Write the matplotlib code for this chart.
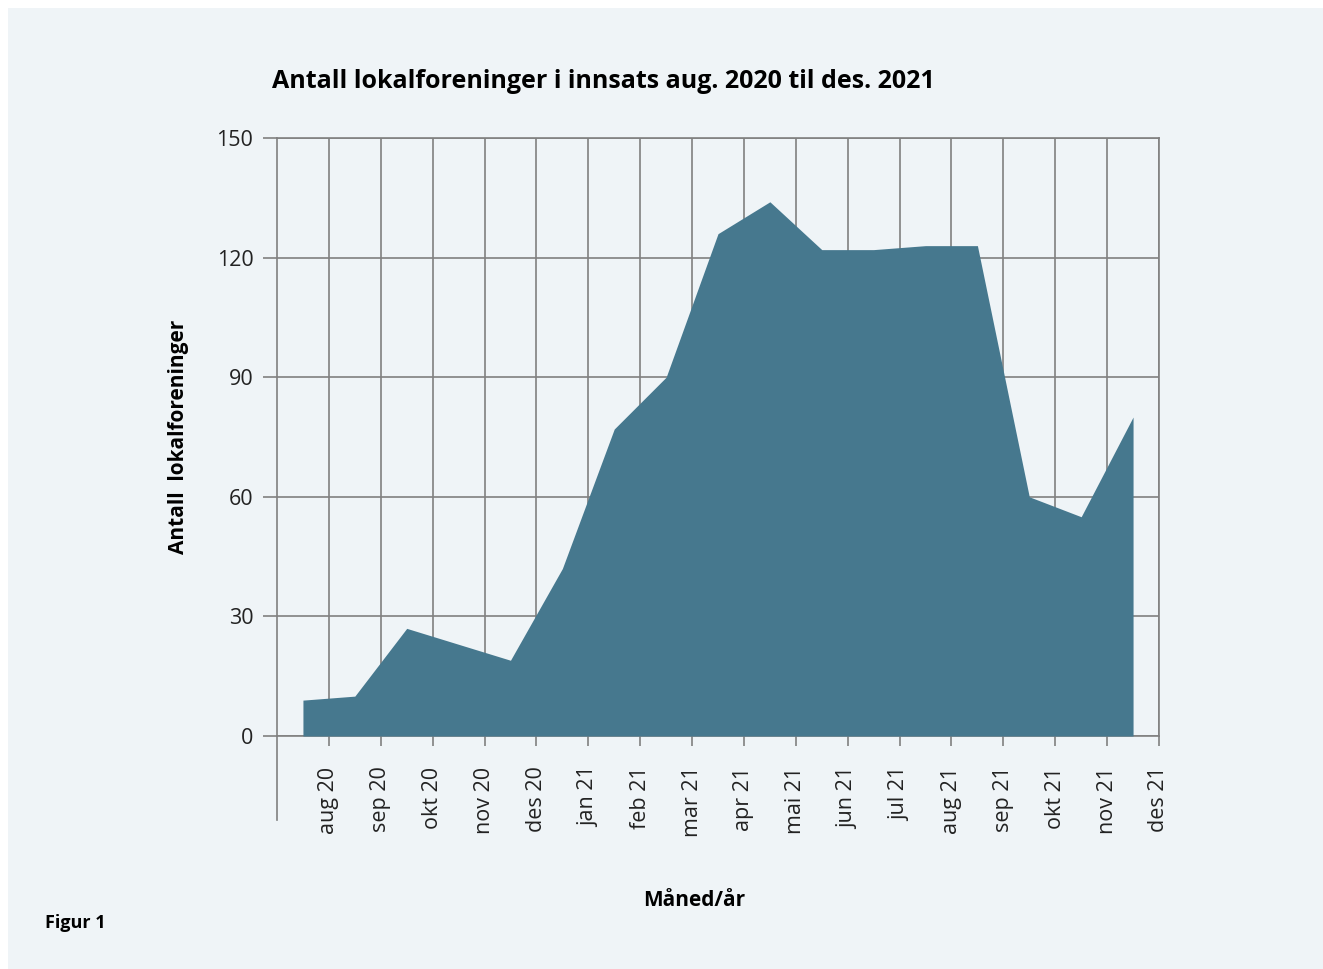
import numpy as np
import matplotlib
matplotlib.use("Agg")
import matplotlib.pyplot as plt
from matplotlib.patches import Rectangle

plt.rcParams['font.family'] = ['Open Sans', 'DejaVu Sans']

# months (tick labels) and number of local associations per month
months = ['aug 20', 'sep 20', 'okt 20', 'nov 20', 'des 20', 'jan 21', 'feb 21',
          'mar 21', 'apr 21', 'mai 21', 'jun 21', 'jul 21', 'aug 21', 'sep 21',
          'okt 21', 'nov 21', 'des 21']
counts = [9, 10, 27, 23, 19, 42, 77, 90, 126, 134, 122, 122, 123, 123, 60, 55, 80]
yticks = [0, 30, 60, 90, 120, 150]

W, H = 1323, 969
fig = plt.figure(figsize=(W / 100, H / 100), dpi=100, facecolor='white')
bg = '#eff4f7'
fig.patches.append(Rectangle((8 / W, 0), 1, 1 - 8 / H, transform=fig.transFigure,
                             facecolor=bg, edgecolor='none', zorder=-10))

ax = fig.add_axes([277 / W, 1 - 736 / H, (1159 - 277) / W, (736 - 138) / H])
ax.set_facecolor(bg)

x = np.arange(len(counts)) + 0.5
ax.fill_between(x, counts, 0, color='#46788e', linewidth=0, zorder=3)

ax.set_xlim(0, len(months))
ax.set_ylim(0, 150)
ax.set_xticks(np.arange(1, len(months) + 1))
ax.set_xticklabels(months, rotation=90, fontsize=15.5, color='#222222')
ax.set_yticks(yticks)
ax.set_yticklabels([str(v) for v in yticks], fontsize=15.5, color='#222222')

grid_c = '#808080'
ax.grid(True, color=grid_c, linewidth=1.2, zorder=1)
ax.set_axisbelow(True)
for s in ax.spines.values():
    s.set_color(grid_c)
    s.set_linewidth(1.2)
ax.tick_params(axis='x', length=7, width=1.2, color=grid_c, pad=15)
ax.tick_params(axis='y', length=10, width=1.2, color=grid_c, pad=7)

# left axis line continues below the x axis
ax.plot([0, 0], [-(820 - 736) / (736 - 138), 0], transform=ax.transAxes,
        color=grid_c, linewidth=1.2, clip_on=False)

ax.set_ylabel('Antall  lokalforeninger', fontsize=15, fontweight='bold', labelpad=20)
fig.text(272 / W, 1 - 82 / H, 'Antall lokalforeninger i innsats aug. 2020 til des. 2021',
         fontsize=18, fontweight='bold', ha='left', va='center')
fig.text(694 / W, 1 - 900 / H, 'Måned/år', fontsize=15, fontweight='bold',
         ha='center', va='center')
fig.text(45 / W, 1 - 923 / H, 'Figur 1', fontsize=13, fontweight='bold',
         ha='left', va='center')

fig.savefig('out.png', dpi=100, facecolor=fig.get_facecolor())
